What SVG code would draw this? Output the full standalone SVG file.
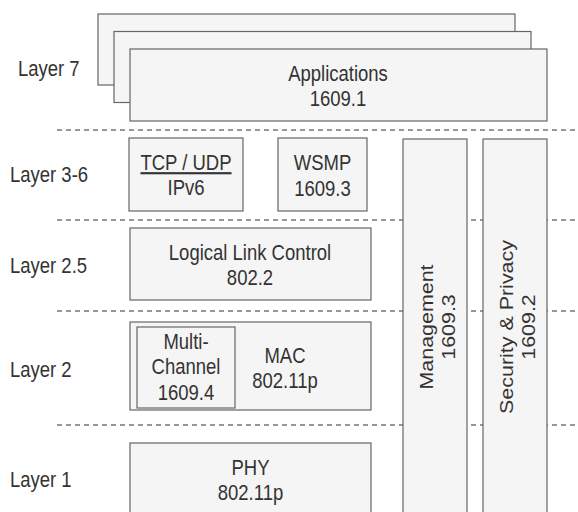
<svg xmlns="http://www.w3.org/2000/svg" width="578" height="512" viewBox="0 0 578 512">
<style>
.box{fill:#f5f5f5;stroke:#666;stroke-width:1.2}
.sep{stroke:#333;stroke-width:1.2;stroke-dasharray:5 4;fill:none}
text{font-family:"Liberation Sans",Arial,sans-serif;font-size:18.5px;fill:#333}
.c{text-anchor:middle}
</style>
<rect width="578" height="512" fill="#fff"/>
<g id="separators">
<line class="sep" x1="57" y1="130" x2="578" y2="130"/>
<line class="sep" x1="57" y1="220" x2="578" y2="220"/>
<line class="sep" x1="57" y1="311" x2="578" y2="311"/>
<line class="sep" x1="57" y1="425" x2="578" y2="425"/>
</g>
<g id="labels">
<text transform="translate(18,76) scale(1,1.16)">Layer 7</text>
<text transform="translate(10,182) scale(1,1.16)">Layer 3-6</text>
<text transform="translate(10,273) scale(1,1.16)">Layer 2.5</text>
<text transform="translate(10,377) scale(1,1.16)">Layer 2</text>
<text transform="translate(10,487) scale(1,1.16)">Layer 1</text>
</g>
<g id="applications">
<rect class="box" x="98" y="14" width="417" height="71"/>
<rect class="box" x="114" y="31.5" width="417" height="71"/>
<rect class="box" x="130" y="49" width="417" height="72"/>
<text class="c" transform="translate(338,81) scale(1,1.16)">Applications</text>
<text class="c" transform="translate(338,106) scale(1,1.16)">1609.1</text>
</g>
<g id="tcp-udp">
<rect class="box" x="129" y="138" width="114" height="73"/>
<text class="c" transform="translate(186,170) scale(1,1.16)" text-decoration="underline">TCP / UDP</text>
<text class="c" transform="translate(186,195) scale(1,1.16)">IPv6</text>
</g>
<g id="wsmp">
<rect class="box" x="278" y="138" width="89" height="73"/>
<text class="c" transform="translate(322.5,170) scale(1,1.16)">WSMP</text>
<text class="c" transform="translate(322.5,196) scale(1,1.16)">1609.3</text>
</g>
<g id="llc">
<rect class="box" x="130" y="228" width="241" height="72"/>
<text class="c" transform="translate(250,260) scale(1,1.16)">Logical Link Control</text>
<text class="c" transform="translate(250,285) scale(1,1.16)">802.2</text>
</g>
<g id="mac">
<rect class="box" x="130" y="322" width="241" height="88"/>
<text class="c" transform="translate(285,363) scale(1,1.16)">MAC</text>
<text class="c" transform="translate(285,388) scale(1,1.16)">802.11p</text>
</g>
<g id="multi-channel">
<rect class="box" x="137" y="327" width="98" height="81"/>
<text class="c" transform="translate(186,349) scale(1,1.16)">Multi-</text>
<text class="c" transform="translate(186,374) scale(1,1.16)">Channel</text>
<text class="c" transform="translate(186,400) scale(1,1.16)">1609.4</text>
</g>
<g id="phy">
<rect class="box" x="130" y="443" width="241" height="80"/>
<text class="c" transform="translate(250.5,475) scale(1,1.16)">PHY</text>
<text class="c" transform="translate(250.5,500) scale(1,1.16)">802.11p</text>
</g>
<g id="management">
<rect class="box" x="403" y="139" width="64" height="384"/>
<text class="c" transform="translate(433,327) scale(1,1.16) rotate(-90)">Management</text>
<text class="c" transform="translate(455,327) scale(1,1.16) rotate(-90)">1609.3</text>
</g>
<g id="security">
<rect class="box" x="483" y="139" width="64" height="384"/>
<text class="c" transform="translate(513,327) scale(1,1.16) rotate(-90)">Security &amp; Privacy</text>
<text class="c" transform="translate(535,327) scale(1,1.16) rotate(-90)">1609.2</text>
</g>
</svg>
